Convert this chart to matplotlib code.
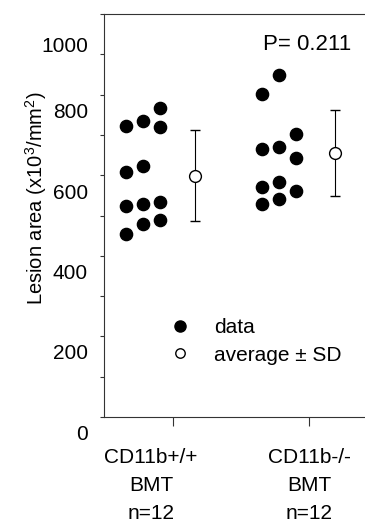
import numpy as np
import matplotlib
matplotlib.use('Agg')
import matplotlib.pyplot as plt
from matplotlib.lines import Line2D
from matplotlib.transforms import ScaledTranslation

plt.rcParams['font.family'] = ['Liberation Sans', 'DejaVu Sans']
plt.rcParams['mathtext.fontset'] = 'custom'
plt.rcParams['mathtext.rm'] = 'Liberation Sans'

# valores
grupos = ['CD11b+/+\nBMT\nn=12', 'CD11b-/-\nBMT\nn=12']
wt_vals = [722, 734, 767, 720, 609, 624, 524, 529, 534, 479, 488, 453]
wt_cols = [0, 1, 2, 2, 0, 1, 0, 1, 2, 1, 2, 0]
ko_vals = [801, 849, 664, 671, 701, 643, 571, 582, 561, 529, 540]
ko_cols = [0, 1, 0, 1, 2, 2, 0, 1, 2, 0, 1]
medias = [599, 655]
sds = [112, 107]
p_texto = 'P= 0.211'

fig = plt.figure(figsize=(3.65, 5.2), dpi=100)
ax = fig.add_axes([104/365, 103/520, 261/365, 403/520])

col_off = [-0.345, -0.218, -0.093]
media_off = [0.162, 0.192]

for i, (vals, cols) in enumerate([(wt_vals, wt_cols), (ko_vals, ko_cols)]):
    xs = [i + 1 + col_off[c] for c in cols]
    ax.plot(xs, vals, 'o', color='black', ms=8.8, ls='none')
    ax.errorbar(i + 1 + media_off[i], medias[i], yerr=sds[i], fmt='o', color='black',
                mfc='white', mec='black', mew=1.0, ms=8.5, elinewidth=0.8,
                capsize=3.3, capthick=0.8)

ax.set_xlim(0.4926, 2.412)
ax.set_ylim(0, 1000)
ax.set_xticks([1, 2])
ax.set_xticklabels(grupos, fontsize=15, linespacing=1.6)
ax.set_yticks(np.arange(0, 1001, 200))
ax.set_yticks(np.arange(0, 1001, 100), minor=True)
ax.tick_params(axis='y', which='both', direction='out', length=3, width=0.8,
               labelsize=15, pad=8.5, color='#333333')
ax.tick_params(axis='x', direction='out', length=6.5, width=0.8, pad=15.5,
               color='#333333')
for s in ['left', 'bottom', 'top']:
    ax.spines[s].set_color('#333333')
    ax.spines[s].set_linewidth(0.8)
ax.spines['right'].set_visible(False)

# etiquetas desplazadas como en el original
ylab_dy = [15, 15, 16, 16, 16, 31]
for lab, dy in zip(ax.get_yticklabels(), ylab_dy):
    lab.set_transform(lab.get_transform() + ScaledTranslation(0, -dy/100, fig.dpi_scale_trans))
xlab_dx = [-22, 0]
for lab, dx in zip(ax.get_xticklabels(), xlab_dx):
    lab.set_transform(lab.get_transform() + ScaledTranslation(dx/100, 0, fig.dpi_scale_trans))

ax.set_ylabel('Lesion area (x10$\\mathregular{^3}$/mm$\\mathregular{^2}$)', fontsize=14.5)
ax.yaxis.set_label_coords(-0.212, 0.542)

ax.text((263-104)/261, (417-45)/403, p_texto, transform=ax.transAxes, fontsize=16,
        va='center', ha='left')

handles = [Line2D([], [], marker='o', ls='none', color='black', ms=8),
           Line2D([], [], marker='o', ls='none', mfc='white', mec='black', mew=1.0, ms=6.8)]
ax.legend(handles, ['data', 'average ± SD'], loc='upper left', frameon=False,
          bbox_to_anchor=(170/365, 1 - 318/520), bbox_transform=fig.transFigure,
          fontsize=15, handlelength=1.0, handletextpad=1.1, labelspacing=0.42,
          borderpad=0, borderaxespad=0)

fig.savefig('out.png', dpi=100)
